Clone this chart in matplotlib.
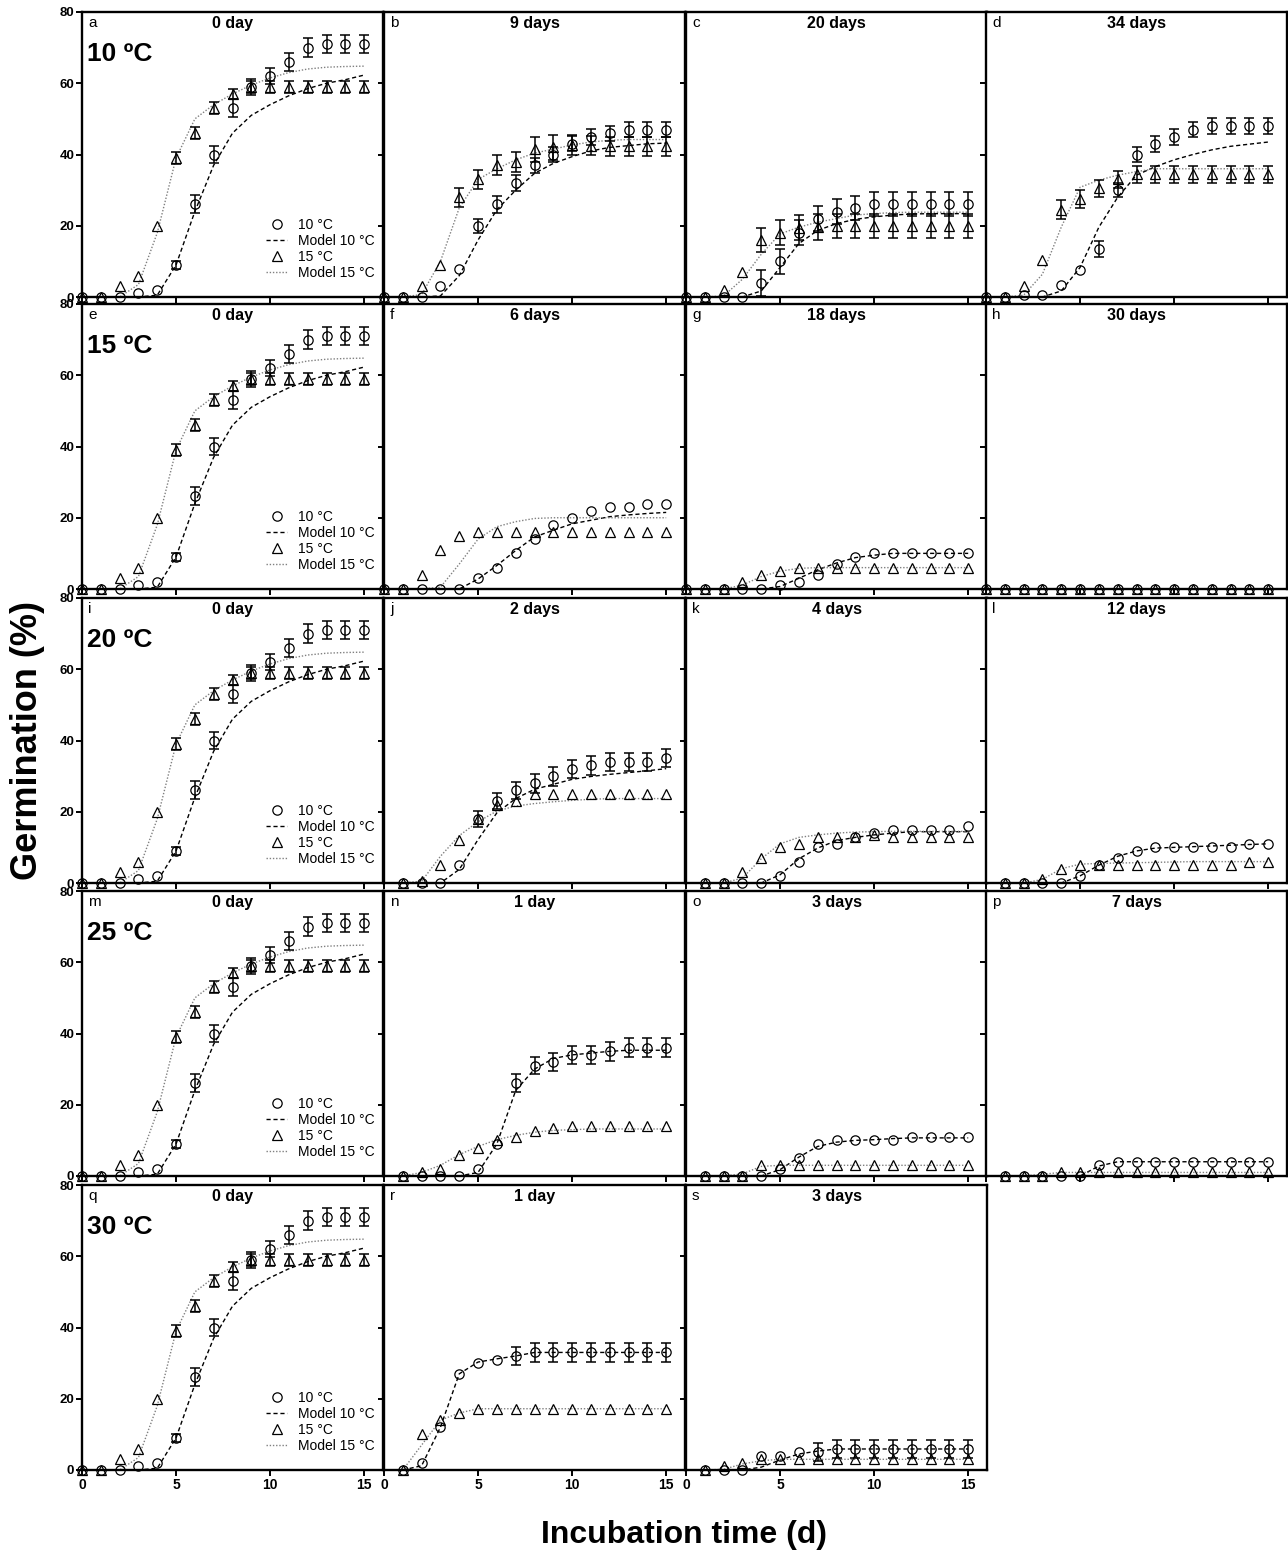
import numpy as np
import matplotlib
matplotlib.use('Agg')
import matplotlib.pyplot as plt
from matplotlib.lines import Line2D

plt.rcParams['font.family'] = ['Liberation Sans', 'DejaVu Sans']

# ---------------- data ----------------
days0 = list(range(0, 16))
days1 = list(range(1, 16))

# 0 day (panels a, e, i, m, q)
c10_0 = [0, 0, 0, 1, 2, 9, 26, 40, 53, 59, 62, 66, 70, 71, 71, 71]
e10_0 = [0, 0, 0, 0, 0, 1, 2.5, 2.5, 2.5, 2.2, 2.3, 2.6, 2.6, 2.5, 2.5, 2.5]
t15_0 = [0, 0, 3, 6, 20, 39, 46, 53, 57, 59, 59, 59, 59, 59, 59, 59]
e15_0 = [0, 0, 0, 0, 0, 1.7, 1.7, 1.6, 1.5, 1.6, 1.6, 1.6, 1.6, 1.6, 1.6, 1.6]
m10_0 = [0, 0, 0, 0, 0.5, 9, 24, 37, 46, 51, 54, 56.5, 58.5, 60, 61, 62.3]
m15_0 = [0, 0, 0, 3.5, 18, 39, 50, 54, 57, 59.5, 61.5, 63, 64, 64.5, 64.7, 64.8]

# b: 9 days (10 ºC)
c10_b = [0, 0, 0, 3, 8, 20, 26, 32, 37, 40, 43, 45, 46, 47, 47, 47]
e10_b = [0, 0, 0, 0, 0, 2, 2.3, 2.3, 2.1, 2.2, 2.1, 2.2, 2.1, 2.1, 2.1, 2.1]
t15_b = [0, 0, 3, 9, 28, 33, 37, 38, 41.5, 42, 42.7, 42.5, 42.3, 42.3, 42.3, 42.3]
e15_b = [0, 0, 0, 0, 2.7, 2.7, 2.8, 2.8, 3.5, 3.5, 2.8, 2.7, 2.7, 2.7, 2.7, 2.7]
m10_b = [0, 0, 0, 0.3, 6, 16, 24.5, 30, 34.7, 37.5, 39.4, 41, 42, 42.5, 43, 43.2]
m15_b = [0, 0, 0.7, 10, 25, 33, 36, 38.5, 40.4, 41.5, 42.7, 43.5, 44, 44.2, 44.2, 44.2]

# c: 20 days
c10_c = [0, 0, 0, 0, 4, 10, 18, 22, 24, 25, 26, 26, 26, 26, 26, 26]
e10_c = [0, 0, 0, 0, 3.6, 3.5, 3.5, 3.6, 3.4, 3.4, 3.4, 3.4, 3.4, 3.4, 3.4, 3.4]
t15_c = [0, 0, 2, 7, 16, 18, 19.5, 19.7, 20, 20, 20, 20, 20, 20, 20, 20]
e15_c = [0, 0, 0, 0, 3.4, 3.5, 3.4, 3.6, 3.4, 3.4, 3.4, 3.4, 3.4, 3.4, 3.4, 3.4]
m10_c = [0, 0, 0, 0, 1.7, 8.3, 15, 18.7, 20.6, 21.8, 22.5, 23, 23.3, 23.4, 23.4, 23.4]
m15_c = [0, 0, 0.3, 5, 12, 17.7, 19.6, 21, 22, 23, 23.4, 23.7, 23.8, 23.8, 23.8, 23.8]

# d: 34 days
c10_d = [0, 0, 0.5, 0.5, 3.4, 7.5, 13.5, 30, 40, 43, 45, 47, 48, 48, 48, 48]
e10_d = [0, 0, 0, 0, 0, 0, 2.2, 1.9, 2.1, 2.2, 2.2, 2.1, 2.2, 2.2, 2.2, 2.2]
t15_d = [0, 0, 3, 10.5, 24.5, 27.5, 30.5, 33, 34.5, 34.5, 34.5, 34.5, 34.5, 34.5, 34.5, 34.5]
e15_d = [0, 0, 0, 0, 2.6, 2.4, 2.4, 2.4, 2.4, 2.4, 2.4, 2.4, 2.4, 2.4, 2.4, 2.4]
m10_d = [0, 0, 0, 0, 1.7, 8.3, 19.6, 28, 34.2, 36.6, 38.5, 40, 41.3, 42.3, 42.9, 43.5]
m15_d = [0, 0, 0.5, 6.4, 19.6, 30.8, 32.8, 34.2, 35.2, 36, 36, 36, 36, 36, 36, 36]

# f: 6 days (15 ºC)
c10_f = [0, 0, 0, 0, 0, 3, 6, 10, 14, 18, 20, 22, 23, 23, 24, 24]
t15_f = [0, 0, 4, 11, 15, 16, 16, 16, 16, 16, 16, 16, 16, 16, 16, 16]
m10_f = [0, 0, 0, 0, 0, 2.8, 6.6, 10.8, 14.6, 16.5, 18.3, 19.3, 20.3, 20.8, 21.2, 21.5]
m15_f = [0, 0, 0, 0.5, 7, 14, 17.5, 18.9, 19.8, 20, 20, 20, 20, 20, 20, 20]

# g: 18 days
c10_g = [0, 0, 0, 0, 0, 1, 2, 4, 7, 9, 10, 10, 10, 10, 10, 10]
t15_g = [0, 0, 0, 2, 4, 5, 6, 6, 6, 6, 6, 6, 6, 6, 6, 6]
m10_g = [0, 0, 0, 0, 0, 0.7, 3, 5.4, 7.3, 8.8, 9.5, 10, 10, 10, 10, 10]
m15_g = [0, 0, 0, 1.1, 3.5, 5, 5.8, 6, 6, 6, 6, 6, 6, 6, 6, 6]

# h: 30 days
c10_h = [0] * 16
t15_h = [0] * 16
m10_h = [0] * 16
m15_h = [0] * 16

# j: 2 days (20 ºC)
c10_j = [0, 0, 0, 5, 18, 23, 26, 28, 30, 32, 33, 34, 34, 34, 35]
e10_j = [0, 0, 0, 0, 2.2, 2.3, 2.4, 2.7, 2.7, 2.6, 2.7, 2.5, 2.5, 2.5, 2.5]
t15_j = [0, 0.5, 5, 12, 18, 22, 23, 25, 25, 25, 25, 25, 25, 25, 25]
m10_j = [0, 0, 0, 3.8, 12.2, 19.7, 23.7, 26.3, 27.7, 29.1, 29.9, 30.5, 31, 31.5, 32.1]
m15_j = [0, 0.5, 7.5, 13.3, 17.2, 20.2, 21.6, 22.3, 22.8, 23.2, 23.5, 23.7, 23.7, 23.7, 23.7]

# k: 4 days
c10_k = [0, 0, 0, 0, 2, 6, 10, 11, 13, 14, 15, 15, 15, 15, 16]
t15_k = [0, 0, 3, 7, 10, 11, 13, 13, 13, 13.5, 13, 13, 13, 13, 13]
m10_k = [0, 0, 0, 0, 2.3, 6.8, 9.8, 11.9, 12.8, 13.5, 14, 14.4, 14.4, 14.4, 14.4]
m15_k = [0, 0, 1.4, 6.8, 11, 12.8, 13.5, 14, 14.3, 14.4, 14.5, 14.5, 14.5, 14.5, 14.5]

# l: 12 days
c10_l = [0, 0, 0, 0, 2, 5, 7, 9, 10, 10, 10, 10, 10, 11, 11]
t15_l = [0, 0, 1, 4, 5, 5, 5, 5, 5, 5, 5, 5, 5, 6, 6]
m10_l = [0, 0, 0, 0, 2, 5, 7.5, 9, 9.8, 10, 10.2, 10.4, 10.6, 10.8, 11]
m15_l = [0, 0, 1, 4, 5.3, 5.5, 5.6, 5.7, 5.8, 5.9, 6, 6, 6, 6, 6]

# n: 1 day (25 ºC)
c10_n = [0, 0, 0, 0, 2, 9, 26, 31, 32, 34, 34, 35, 36, 36, 36]
e10_n = [0, 0, 0, 0, 0, 0, 2.5, 2.5, 2.5, 2.6, 2.6, 2.6, 2.6, 2.6, 2.6]
t15_n = [0, 1, 2, 6, 8, 10, 11, 12.5, 13.5, 14, 14, 14, 14, 14, 14]
m10_n = [0, 0, 0, 0, 1, 9, 24, 30, 33, 34, 34.5, 35, 35.3, 35.3, 35.3]
m15_n = [0, 1, 3, 6, 8.3, 10.2, 11.4, 12.3, 12.8, 13, 13.2, 13.2, 13.2, 13.2, 13.2]

# o: 3 days
c10_o = [0, 0, 0, 0, 2, 5, 9, 10, 10, 10, 10, 11, 11, 11, 11]
t15_o = [0, 0, 0, 3, 3, 3, 3, 3, 3, 3, 3, 3, 3, 3, 3]
m10_o = [0, 0, 0, 0, 1.8, 5.3, 8.3, 9.5, 10, 10.2, 10.5, 10.7, 10.7, 10.7, 10.7]
m15_o = [0, 0, 0.6, 2.7, 3, 3, 3, 3, 3, 3, 3, 3, 3, 3, 3]

# p: 7 days
c10_p = [0, 0, 0, 0, 0, 3, 4, 4, 4, 4, 4, 4, 4, 4, 4]
t15_p = [0, 0, 0, 1, 1, 1, 1, 1, 1, 1, 1, 1, 1, 1, 1]
m10_p = [0, 0, 0, 0, 0, 2.8, 4, 4, 4, 4, 4, 4, 4, 4, 4]
m15_p = [0, 0, 0.5, 1, 1, 1, 1, 1, 1, 1, 1, 1, 1, 1, 1]

# r: 1 day (30 ºC)
c10_r = [0, 2, 12, 27, 30, 31, 32, 33, 33, 33, 33, 33, 33, 33, 33]
e10_r = [0, 0, 0, 0, 0, 0, 2.6, 2.7, 2.7, 2.7, 2.7, 2.7, 2.7, 2.7, 2.7]
t15_r = [0, 10, 14, 16, 17, 17, 17, 17, 17, 17, 17, 17, 17, 17, 17]
m10_r = [0, 1.2, 12, 27, 30.3, 31.2, 32, 33, 33, 33, 33, 33, 33, 33, 33]
m15_r = [0, 7, 14, 16, 17.2, 17.2, 17.2, 17.2, 17.2, 17.2, 17.2, 17.2, 17.2, 17.2, 17.2]

# s: 3 days
c10_s = [0, 0, 0, 4, 4, 5, 5, 6, 6, 6, 6, 6, 6, 6, 6]
e10_s = [0, 0, 0, 0, 0, 0, 2.5, 2.5, 2.5, 2.5, 2.5, 2.5, 2.5, 2.5, 2.5]
t15_s = [0, 1, 2, 3, 3, 3, 3, 3, 3, 3, 3, 3, 3, 3, 3]
m10_s = [0, 0, 0, 0.8, 2.8, 4.5, 5.3, 5.9, 5.9, 5.9, 5.9, 5.9, 5.9, 5.9, 5.9]
m15_s = [0, 0.2, 1.7, 2.6, 3, 3, 3, 3, 3, 3, 3, 3, 3, 3, 3]

temp_labels = ['10 ºC', '15 ºC', '20 ºC', '25 ºC', '30 ºC']
legend_labels = ['10 °C', 'Model 10 °C', '15 °C', 'Model 15 °C']
x_ticks = [0, 5, 10, 15]
y_ticks = [0, 20, 40, 60, 80]

zero_day = (days0, c10_0, e10_0, t15_0, e15_0, m10_0, m15_0)
panels = [
    # row, col, letter, title, data
    (0, 0, 'a', '0 day', zero_day),
    (0, 1, 'b', '9 days', (days0, c10_b, e10_b, t15_b, e15_b, m10_b, m15_b)),
    (0, 2, 'c', '20 days', (days0, c10_c, e10_c, t15_c, e15_c, m10_c, m15_c)),
    (0, 3, 'd', '34 days', (days0, c10_d, e10_d, t15_d, e15_d, m10_d, m15_d)),
    (1, 0, 'e', '0 day', zero_day),
    (1, 1, 'f', '6 days', (days0, c10_f, None, t15_f, None, m10_f, m15_f)),
    (1, 2, 'g', '18 days', (days0, c10_g, None, t15_g, None, m10_g, m15_g)),
    (1, 3, 'h', '30 days', (days0, c10_h, None, t15_h, None, m10_h, m15_h)),
    (2, 0, 'i', '0 day', zero_day),
    (2, 1, 'j', '2 days', (days1, c10_j, e10_j, t15_j, None, m10_j, m15_j)),
    (2, 2, 'k', '4 days', (days1, c10_k, None, t15_k, None, m10_k, m15_k)),
    (2, 3, 'l', '12 days', (days1, c10_l, None, t15_l, None, m10_l, m15_l)),
    (3, 0, 'm', '0 day', zero_day),
    (3, 1, 'n', '1 day', (days1, c10_n, e10_n, t15_n, None, m10_n, m15_n)),
    (3, 2, 'o', '3 days', (days1, c10_o, None, t15_o, None, m10_o, m15_o)),
    (3, 3, 'p', '7 days', (days1, c10_p, None, t15_p, None, m10_p, m15_p)),
    (4, 0, 'q', '0 day', zero_day),
    (4, 1, 'r', '1 day', (days1, c10_r, e10_r, t15_r, None, m10_r, m15_r)),
    (4, 2, 's', '3 days', (days1, c10_s, e10_s, t15_s, None, m10_s, m15_s)),
]

# ---------------- layout ----------------
W, H = 1288, 1553
fig = plt.figure(figsize=(W / 100, H / 100), dpi=100)
col_left = [82, 384, 686, 986]
row_top = [12, 304, 598, 891, 1185]
pw, ph = 301, 285

dash10 = dict(color='black', lw=1.0, ls=(0, (3, 2)))
dot15 = dict(color='#808080', lw=1.0, ls=(0, (1, 1.3)))
mk = dict(ls='none', mfc='none', mec='black', mew=0.9, clip_on=False, zorder=4)


def draw_err(ax, x, y, e):
    if e is None:
        return
    x = np.asarray(x, float); y = np.asarray(y, float); e = np.asarray(e, float)
    m = e > 0
    if m.any():
        ax.errorbar(x[m], y[m], yerr=e[m], fmt='none', ecolor='black',
                    elinewidth=1.1, capsize=3.5, capthick=1.1, clip_on=False, zorder=3)


for row, col, letter, title, data in panels:
    x, c10, e10, t15, e15, m10, m15 = data
    ax = fig.add_axes([col_left[col] / W, (H - row_top[row] - ph) / H, pw / W, ph / H])
    ax.set_xlim(0, 16)
    ax.set_ylim(0, 80)
    ax.plot(x, m10, **dash10, zorder=2)
    ax.plot(x, m15, **dot15, zorder=2)
    draw_err(ax, x, c10, e10)
    draw_err(ax, x, t15, e15)
    ax.plot(x, c10, marker='o', ms=6.7, **mk)
    ax.plot(x, t15, marker='^', ms=7.2, **mk)
    ax.set_xticks(x_ticks)
    ax.set_yticks(y_ticks)
    ax.tick_params(direction='out', length=4, width=1.4, pad=1.5)
    for sp in ax.spines.values():
        sp.set_linewidth(1.7)
    if col == 0:
        ax.set_yticklabels([str(v) for v in y_ticks], fontsize=9.5, fontweight='bold')
    else:
        ax.set_yticklabels([])
    if (row == 4):
        ax.set_xticklabels([str(v) for v in x_ticks], fontsize=10, fontweight='bold')
    else:
        ax.set_xticklabels([])
    ax.text(0.02, 0.985, letter, transform=ax.transAxes, ha='left', va='top', fontsize=11)
    ax.text(0.5, 0.985, title, transform=ax.transAxes, ha='center', va='top',
            fontsize=11.5, fontweight='bold')
    if col == 0:
        ax.text(0.017, 0.828, temp_labels[row], transform=ax.transAxes, ha='left',
                va='baseline', fontsize=19, fontweight='bold')
        handles = [Line2D([], [], marker='o', ms=6.7, ls='none', mfc='none', mec='black', mew=0.9),
                   Line2D([], [], **dash10),
                   Line2D([], [], marker='^', ms=7.2, ls='none', mfc='none', mec='black', mew=0.9),
                   Line2D([], [], **dot15)]
        ax.legend(handles, legend_labels, loc='lower right', bbox_to_anchor=(1.0, 0.03),
                  frameon=False, fontsize=10, handlelength=1.5, handletextpad=0.8,
                  labelspacing=0.15, borderaxespad=0.2)

fig.text(28 / W, 1 - 740 / H, 'Germination (%)', rotation=90, ha='center', va='center',
         fontsize=26, fontweight='bold')
fig.text(684 / W, 1 - 1535 / H, 'Incubation time (d)', ha='center', va='center',
         fontsize=23, fontweight='bold')

fig.savefig('out.png', dpi=100, facecolor='white')
